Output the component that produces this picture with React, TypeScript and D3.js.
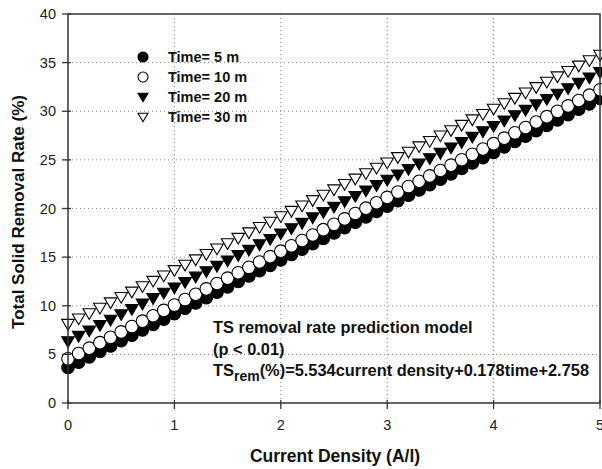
import React from "react";
import * as d3 from "d3";

const currentDensity = [
  0, 0.1, 0.2, 0.3, 0.4, 0.5, 0.6, 0.7, 0.8, 0.9,
  1.0, 1.1, 1.2, 1.3, 1.4, 1.5, 1.6, 1.7, 1.8, 1.9,
  2.0, 2.1, 2.2, 2.3, 2.4, 2.5, 2.6, 2.7, 2.8, 2.9,
  3.0, 3.1, 3.2, 3.3, 3.4, 3.5, 3.6, 3.7, 3.8, 3.9,
  4.0, 4.1, 4.2, 4.3, 4.4, 4.5, 4.6, 4.7, 4.8, 4.9, 5.0,
];

const time5 = [
  3.65, 4.20, 4.75, 5.31, 5.86, 6.42, 6.97, 7.52, 8.08, 8.63,
  9.18, 9.74, 10.29, 10.84, 11.40, 11.95, 12.50, 13.06, 13.61, 14.16,
  14.72, 15.27, 15.82, 16.38, 16.93, 17.48, 18.04, 18.59, 19.14, 19.70,
  20.25, 20.80, 21.36, 21.91, 22.46, 23.02, 23.57, 24.12, 24.68, 25.23,
  25.78, 26.34, 26.89, 27.44, 28.00, 28.55, 29.10, 29.66, 30.21, 30.76, 31.32,
];

const time10 = [
  4.54, 5.09, 5.64, 6.20, 6.75, 7.31, 7.86, 8.41, 8.97, 9.52,
  10.07, 10.63, 11.18, 11.73, 12.29, 12.84, 13.39, 13.95, 14.50, 15.05,
  15.61, 16.16, 16.71, 17.27, 17.82, 18.37, 18.93, 19.48, 20.03, 20.59,
  21.14, 21.69, 22.25, 22.80, 23.35, 23.91, 24.46, 25.01, 25.57, 26.12,
  26.67, 27.23, 27.78, 28.33, 28.89, 29.44, 29.99, 30.55, 31.10, 31.65, 32.21,
];

const time20 = [
  6.32, 6.87, 7.42, 7.98, 8.53, 9.09, 9.64, 10.19, 10.75, 11.30,
  11.85, 12.41, 12.96, 13.51, 14.07, 14.62, 15.17, 15.73, 16.28, 16.83,
  17.39, 17.94, 18.49, 19.05, 19.60, 20.15, 20.71, 21.26, 21.81, 22.37,
  22.92, 23.47, 24.03, 24.58, 25.13, 25.69, 26.24, 26.79, 27.35, 27.90,
  28.45, 29.01, 29.56, 30.11, 30.67, 31.22, 31.77, 32.33, 32.88, 33.43, 33.99,
];

const time30 = [
  8.10, 8.65, 9.20, 9.76, 10.31, 10.87, 11.42, 11.97, 12.53, 13.08,
  13.63, 14.19, 14.74, 15.29, 15.85, 16.40, 16.95, 17.51, 18.06, 18.61,
  19.17, 19.72, 20.27, 20.83, 21.38, 21.93, 22.49, 23.04, 23.59, 24.15,
  24.70, 25.25, 25.81, 26.36, 26.91, 27.47, 28.02, 28.57, 29.13, 29.68,
  30.23, 30.79, 31.34, 31.89, 32.45, 33.00, 33.55, 34.11, 34.66, 35.21, 35.77,
];

const seriesLabels = ["Time= 5 m", "Time= 10 m", "Time= 20 m", "Time= 30 m"];
const seriesValues = [time5, time10, time20, time30];
const seriesMarkers = ["circleFilled", "circleOpen", "triFilled", "triOpen"];

const xTicks = [0, 1, 2, 3, 4, 5];
const yTicks = [0, 5, 10, 15, 20, 25, 30, 35, 40];

const W = 602;
const H = 469;
const left = 68;
const right = 600;
const top = 14;
const bottom = 403;

const FONT = "Liberation Sans, Arial, Helvetica, sans-serif";

function Marker({ kind, x, y, r }: { kind: string; x: number; y: number; r: number }) {
  if (kind === "circleFilled" || kind === "circleOpen") {
    return (
      <circle
        cx={x}
        cy={y}
        r={r}
        fill={kind === "circleFilled" ? "#000" : "#fff"}
        stroke="#000"
        strokeWidth={1.1}
      />
    );
  }
  const hw = r * 1.0;
  const h = r * 1.7;
  const p = `M${x - hw},${y - h * 0.45} L${x + hw},${y - h * 0.45} L${x},${y + h * 0.55} Z`;
  return (
    <path
      d={p}
      fill={kind === "triFilled" ? "#000" : "#fff"}
      stroke="#000"
      strokeWidth={1.1}
      strokeLinejoin="miter"
    />
  );
}

export default function App() {
  const x = d3.scaleLinear().domain([0, 5]).range([left, right]);
  const y = d3.scaleLinear().domain([0, 40]).range([bottom, top]);

  const axisColor = "#333";
  const gridColor = "#8a8a8a";

  return (
    <svg
      width={W}
      height={H}
      style={{ position: "absolute", left: 0, top: 0, background: "#fff" }}
      fontFamily={FONT}
    >
      <rect x={0} y={0} width={W} height={H} fill="#fff" />
      {/* grid */}
      {xTicks.slice(1, -1).map((t) => (
        <line
          key={"gx" + t}
          x1={x(t)}
          x2={x(t)}
          y1={top}
          y2={bottom}
          stroke={gridColor}
          strokeWidth={1}
          strokeDasharray="1,3"
        />
      ))}
      {yTicks.slice(1, -1).map((t) => (
        <line
          key={"gy" + t}
          x1={left}
          x2={right}
          y1={y(t)}
          y2={y(t)}
          stroke={gridColor}
          strokeWidth={1}
          strokeDasharray="1,3"
        />
      ))}

      {/* data */}
      {seriesValues.map((vals, si) => (
        <g key={"s" + si}>
          {vals.map((v, i) => (
            <Marker key={i} kind={seriesMarkers[si]} x={x(currentDensity[i])} y={y(v)} r={6.3} />
          ))}
        </g>
      ))}

      {/* frame */}
      <rect
        x={left}
        y={top}
        width={right - left}
        height={bottom - top}
        fill="none"
        stroke={axisColor}
        strokeWidth={1.5}
      />

      {/* ticks */}
      {xTicks.map((t) => (
        <line key={"tx" + t} x1={x(t)} x2={x(t)} y1={bottom - 3} y2={bottom + 6} stroke={axisColor} strokeWidth={1.3} />
      ))}
      {yTicks.map((t) => (
        <line key={"ty" + t} x1={left - 6} x2={left + 3} y1={y(t)} y2={y(t)} stroke={axisColor} strokeWidth={1.3} />
      ))}

      {/* tick labels */}
      {xTicks.map((t) => (
        <text key={"lx" + t} x={x(t)} y={430} textAnchor="middle" fontSize={14.5} fill="#222">
          {t}
        </text>
      ))}
      {yTicks.map((t) => (
        <text key={"ly" + t} x={56} y={y(t) + 5} textAnchor="end" fontSize={14.5} fill="#222">
          {t}
        </text>
      ))}

      {/* axis titles */}
      <text x={335} y={462} textAnchor="middle" fontSize={17.5} fontWeight="bold" fill="#111">
        Current Density (A/l)
      </text>
      <text
        transform={`translate(24,212) rotate(-90)`}
        textAnchor="middle"
        fontSize={17}
        fontWeight="bold"
        fill="#111"
      >
        Total Solid Removal Rate (%)
      </text>

      {/* legend */}
      {seriesLabels.map((lab, i) => (
        <g key={"leg" + i}>
          <Marker kind={seriesMarkers[i]} x={143} y={57 + i * 20} r={5} />
          <text x={168} y={57 + i * 20 + 5} fontSize={14.5} fontWeight="bold" fill="#111">
            {lab}
          </text>
        </g>
      ))}

      {/* model annotation */}
      <g fontSize={16.4} fontWeight="bold" fill="#111">
        <text x={213} y={333}>TS removal rate prediction model</text>
        <text x={213} y={355}>(p &lt; 0.01)</text>
        <text x={213} y={376}>
          TS
          <tspan fontSize={14} dy={5}>rem</tspan>
          <tspan dy={-5}>(%)=5.534current density+0.178time+2.758</tspan>
        </text>
      </g>
    </svg>
  );
}
